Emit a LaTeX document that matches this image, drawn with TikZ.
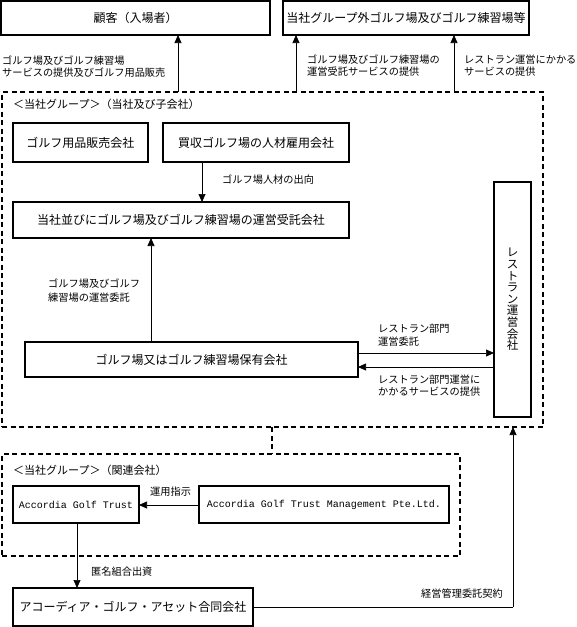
\documentclass[tikz,border=0pt]{standalone}
\usepackage{fontspec}
\setmainfont{Noto Sans CJK JP}
\newfontfamily\monof{Liberation Mono}
\usetikzlibrary{arrows.meta}
\begin{document}
\begin{tikzpicture}[x=1pt,y=-1pt,
  box/.style={draw, line width=1.2pt, inner sep=0pt, outer sep=0pt, anchor=north west, font=\fontsize{12}{14}\selectfont},
  dbox/.style={draw, line width=1.4pt, dash pattern=on 5pt off 3.5pt, inner sep=0pt, outer sep=0pt, anchor=north west},
  dline/.style={line width=1.4pt, dash pattern=on 5pt off 3.5pt},
  lbl/.style={anchor=west, align=left, inner sep=0pt, font=\fontsize{10.2}{12}\selectfont},
  ttl/.style={anchor=west, inner sep=0pt, font=\fontsize{11}{13}\selectfont},
  arr/.style={line width=0.7pt, -{Triangle[width=7pt,length=8pt]}},
  ln/.style={line width=0.7pt}]
\useasboundingbox (0,0) rectangle (577,627);

% top boxes
\node[box, minimum width=269pt, minimum height=34pt] (kokyaku) at (1,1) {顧客（入場者）};
\node[box, minimum width=246pt, minimum height=34pt] (gaibu) at (283,1) {当社グループ外ゴルフ場及びゴルフ練習場等};

% group boxes
\node[dbox, minimum width=541pt, minimum height=335pt] (grp) at (2,92) {};
\node[dbox, minimum width=458pt, minimum height=102pt] (sub) at (2,454) {};

\node[ttl] (t1) at (13,104) {＜当社グループ＞（当社及び子会社）};
\node[ttl] (t2) at (13,470) {＜当社グループ＞（関連会社）};

% inner boxes
\node[box, minimum width=135pt, minimum height=39pt] (yohin) at (13,123) {ゴルフ用品販売会社};
\node[box, minimum width=186pt, minimum height=39pt] (baishu) at (163,123) {買収ゴルフ場の人材雇用会社};
\node[box, minimum width=336pt, minimum height=36pt] (jutaku) at (13,202) {当社並びにゴルフ場及びゴルフ練習場の運営受託会社};
\node[box, minimum width=333pt, minimum height=35pt] (hoyu) at (25,342) {ゴルフ場又はゴルフ練習場保有会社};
\node[box, minimum width=37pt, minimum height=235pt, align=center, font=\fontsize{11.5}{11.6}\selectfont] (resto) at (494,182) {レ\\ス\\ト\\ラ\\ン\\運\\営\\会\\社};

\node[box, minimum width=126pt, minimum height=37pt, font=\monof\fontsize{10}{12}\selectfont] (agt) at (13,486) {Accordia Golf Trust};
\node[box, minimum width=250pt, minimum height=37pt, font=\monof\fontsize{10}{12}\selectfont] (agtm) at (199,486) {Accordia Golf Trust Management Pte.Ltd.};
\node[box, minimum width=240pt, minimum height=38pt] (asset) at (13,588) {アコーディア・ゴルフ・アセット合同会社};

% coordinates for connectors
\coordinate (c1) at (178,0);
\coordinate (c2) at (296,0);
\coordinate (c3) at (454,0);
\coordinate (c4) at (202,0);
\coordinate (c5) at (151,0);
\coordinate (c6) at (0,353);
\coordinate (c7) at (0,367);
\coordinate (c8) at (272,0);
\coordinate (c9) at (0,505);
\coordinate (c10) at (77,0);
\coordinate (c11) at (513,607);

% connectors
\draw[arr] (grp.north -| c1) -- (kokyaku.south -| c1);
\draw[arr] (grp.north -| c2) -- (gaibu.south -| c2);
\draw[arr] (grp.north -| c3) -- (gaibu.south -| c3);
\draw[arr] (baishu.south -| c4) -- (jutaku.north -| c4);
\draw[arr] (hoyu.north -| c5) -- (jutaku.south -| c5);
\draw[arr] (hoyu.east |- c6) -- (resto.west |- c6);
\draw[arr] (resto.west |- c7) -- (hoyu.east |- c7);
\draw[dline] (grp.south -| c8) -- (sub.north -| c8);
\draw[arr] (agtm.west |- c9) -- (agt.east |- c9);
\draw[arr] (agt.south -| c10) -- (asset.north -| c10);
\draw[ln] (asset.east |- c11) -- (c11);
\draw[arr] (c11) -- (grp.south -| c11);

% labels
\node[lbl] (l1) at (2,67) {ゴルフ場及びゴルフ練習場\\サービスの提供及びゴルフ用品販売};
\node[lbl] (l2) at (307,66) {ゴルフ場及びゴルフ練習場の\\運営受託サービスの提供};
\node[lbl] (l3) at (464,66) {レストラン運営にかかる\\サービスの提供};
\node[lbl] (l4) at (222,180) {ゴルフ場人材の出向};
\node[lbl, font=\fontsize{10.2}{14}\selectfont] (l5) at (48,291) {ゴルフ場及びゴルフ\\練習場の運営委託};
\node[lbl, font=\fontsize{10.2}{13.5}\selectfont] (l6) at (378,335) {レストラン部門\\運営委託};
\node[lbl, font=\fontsize{10.2}{11.5}\selectfont] (l7) at (378,385.5) {レストラン部門運営に\\かかるサービスの提供};
\node[lbl] (l8) at (150,492) {運用指示};
\node[lbl] (l9) at (91,572) {匿名組合出資};
\node[lbl, anchor=east] (l10) at (503,594) {経営管理委託契約};
\end{tikzpicture}
\end{document}
